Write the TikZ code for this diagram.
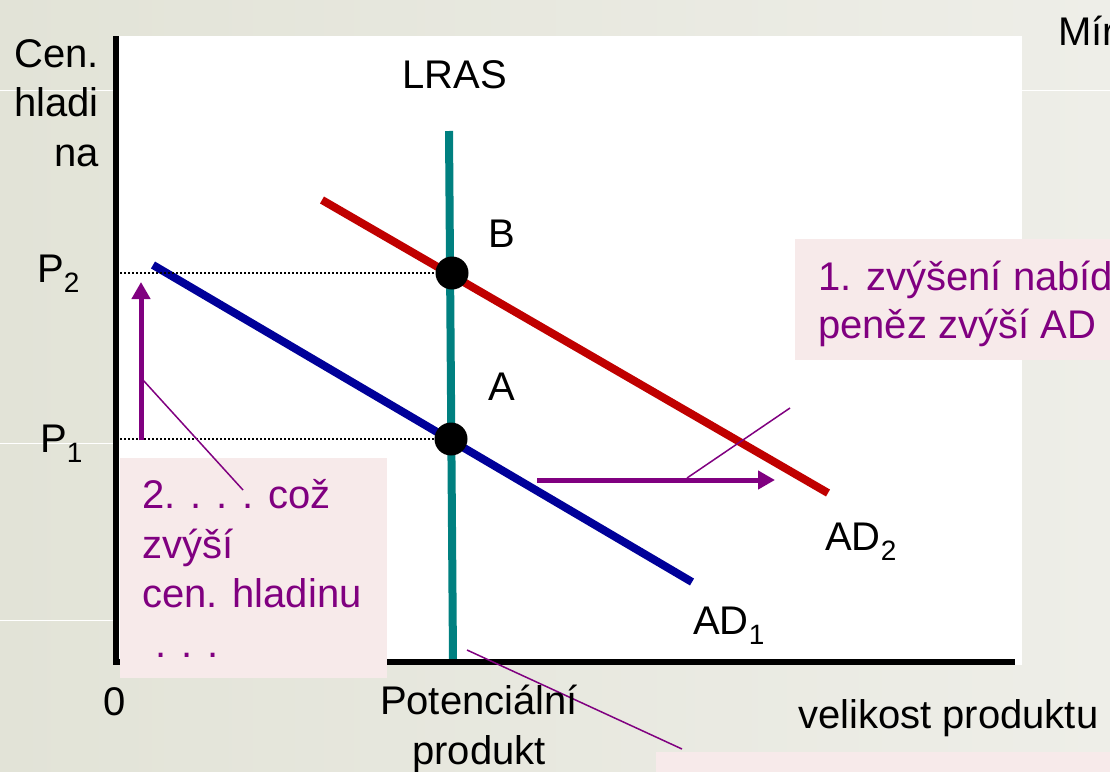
\documentclass[tikz,border=0pt]{standalone}
\usepackage{fontspec}
\setmainfont{Liberation Sans}
\usetikzlibrary{arrows.meta}
\definecolor{SlideGreen}{HTML}{E2E3D7}
\definecolor{SlideLight}{HTML}{EEEEE8}
\definecolor{NotePink}{HTML}{F7EAEA}
\definecolor{NotePurple}{HTML}{800080}
\definecolor{LrasTeal}{HTML}{008080}
\definecolor{AdRed}{HTML}{C00000}
\definecolor{AdBlue}{HTML}{000099}
\newcommand{\lowidx}[1]{\raisebox{-10pt}{\fontsize{28}{28}\selectfont #1}}
\tikzset{
  lab/.style={font=\fontsize{40}{49.5}\selectfont, text=black, inner sep=0pt},
  note/.style={lab, text=NotePurple, align=left},
  notebox/.style={fill=NotePink, draw=none, inner sep=0pt, anchor=north west},
  curve/.style={line width=8pt},
  eqdot/.style={circle, fill=black, minimum size=33pt, inner sep=0pt},
  guide/.style={line width=1.5pt, dash pattern=on 1.5pt off 2.5pt},
  shiftarrow/.style={-{Triangle[length=17pt, width=18pt]}, line width=5pt, draw=NotePurple},
  pointer/.style={draw=NotePurple, line width=1.5pt},
}
\begin{document}
\begin{tikzpicture}[x=1pt, y=-1pt]
    \useasboundingbox (0,0) rectangle (1110,771);
    \shade[left color=SlideGreen, right color=SlideLight] (0,0) rectangle (1110,771);
    \draw[white, line width=1pt] (0,90) -- (1110,90);
    \foreach \yy in {443,620}
      \draw[white, line width=1pt] (0,\yy) -- (116,\yy);
    \fill[white] (116,36) rectangle (1022,665);
    \coordinate (lrastop) at (449,131);
    \coordinate (lrasbot) at (453,660);
    \coordinate (ad2start) at (322,200);
    \coordinate (ad2end) at (828,493);
    \coordinate (ad1start) at (153,265);
    \coordinate (ad1end) at (692,582);
    \draw[curve, LrasTeal] (lrastop) -- (lrasbot);
    \draw[curve, AdRed] (ad2start) -- (ad2end);
    \draw[curve, AdBlue] (ad1start) -- (ad1end);
    \coordinate (ytop) at (116,36);
    \coordinate (origin) at (116,662);
    \coordinate (xend) at (1015,662);
    \draw[line width=6.5pt] (ytop) -- (origin) -- (xend);
    \node[eqdot] (B) at (452,273) {};
    \node[eqdot] (A) at (451,439) {};
    \coordinate (p2left) at (120,273);
    \coordinate (p1left) at (120,439);
    \draw[guide] (p2left) -- (B.center);
    \draw[guide] (p1left) -- (A.center);
    \coordinate (risefoot) at (141,440);
    \coordinate (risetip) at (141,282);
    \draw[shiftarrow] (risefoot) -- (risetip);
    \coordinate (movefoot) at (537,480);
    \coordinate (movetip) at (775,480);
    \draw[shiftarrow] (movefoot) -- (movetip);
    \node[notebox, minimum width=267pt, minimum height=220pt] (risebox) at (120,458) {};
    \node[notebox, minimum width=330pt, minimum height=121pt] (shiftbox) at (795,239) {};
    \node[notebox, minimum width=460pt, minimum height=30pt] (lowbox) at (656,752) {};
    \coordinate (riseptr) at (143,380);
    \coordinate (riseend) at (243,490);
    \coordinate (shiftptr) at (687,478);
    \coordinate (shiftend) at (790,408);
    \coordinate (potptr) at (467,650);
    \coordinate (potend) at (682,749);
    \draw[pointer] (riseend) -- (riseptr);
    \draw[pointer] (shiftend) -- (shiftptr);
    \draw[pointer] (potend) -- (potptr);
    \node[lab, anchor=base east, align=right] (pricelab) at (99,166) {Cen.\\hladi\\na};
    \node[lab, anchor=base] (lraslab) at (455,88) {LRAS};
    \node[lab, anchor=base west] (ratelab) at (1058,45) {Mír};
    \node[lab, anchor=base] (blab) at (502,247) {B};
    \node[lab, anchor=base] (alab) at (502,400) {A};
    \node[lab, anchor=base west] (p2lab) at (37,282) {P\lowidx{2}};
    \node[lab, anchor=base west] (p1lab) at (40,452) {P\lowidx{1}};
    \node[lab, anchor=base] (zerolab) at (115,715) {0};
    \node[lab, anchor=base, align=center] (potlab) at (479,764) {Potenciální\\produkt};
    \node[lab, anchor=base west] (outputlab) at (798,728) {velikost produktu};
    \node[lab, anchor=base west] (ad1lab) at (693,634) {AD\lowidx{1}};
    \node[lab, anchor=base west] (ad2lab) at (825,550) {AD\lowidx{2}};
    \node[note, anchor=base west] (risenote) at (142,657) {2. . . . což\\zvýší\\cen. hladinu\\\hspace*{13pt}. . .};
    \node[note, anchor=base west, font=\fontsize{40}{48}\selectfont] (shiftnote) at (818,338) {1. zvýšení nabíd\\peněz zvýší AD};
  \end{tikzpicture}
\end{document}
